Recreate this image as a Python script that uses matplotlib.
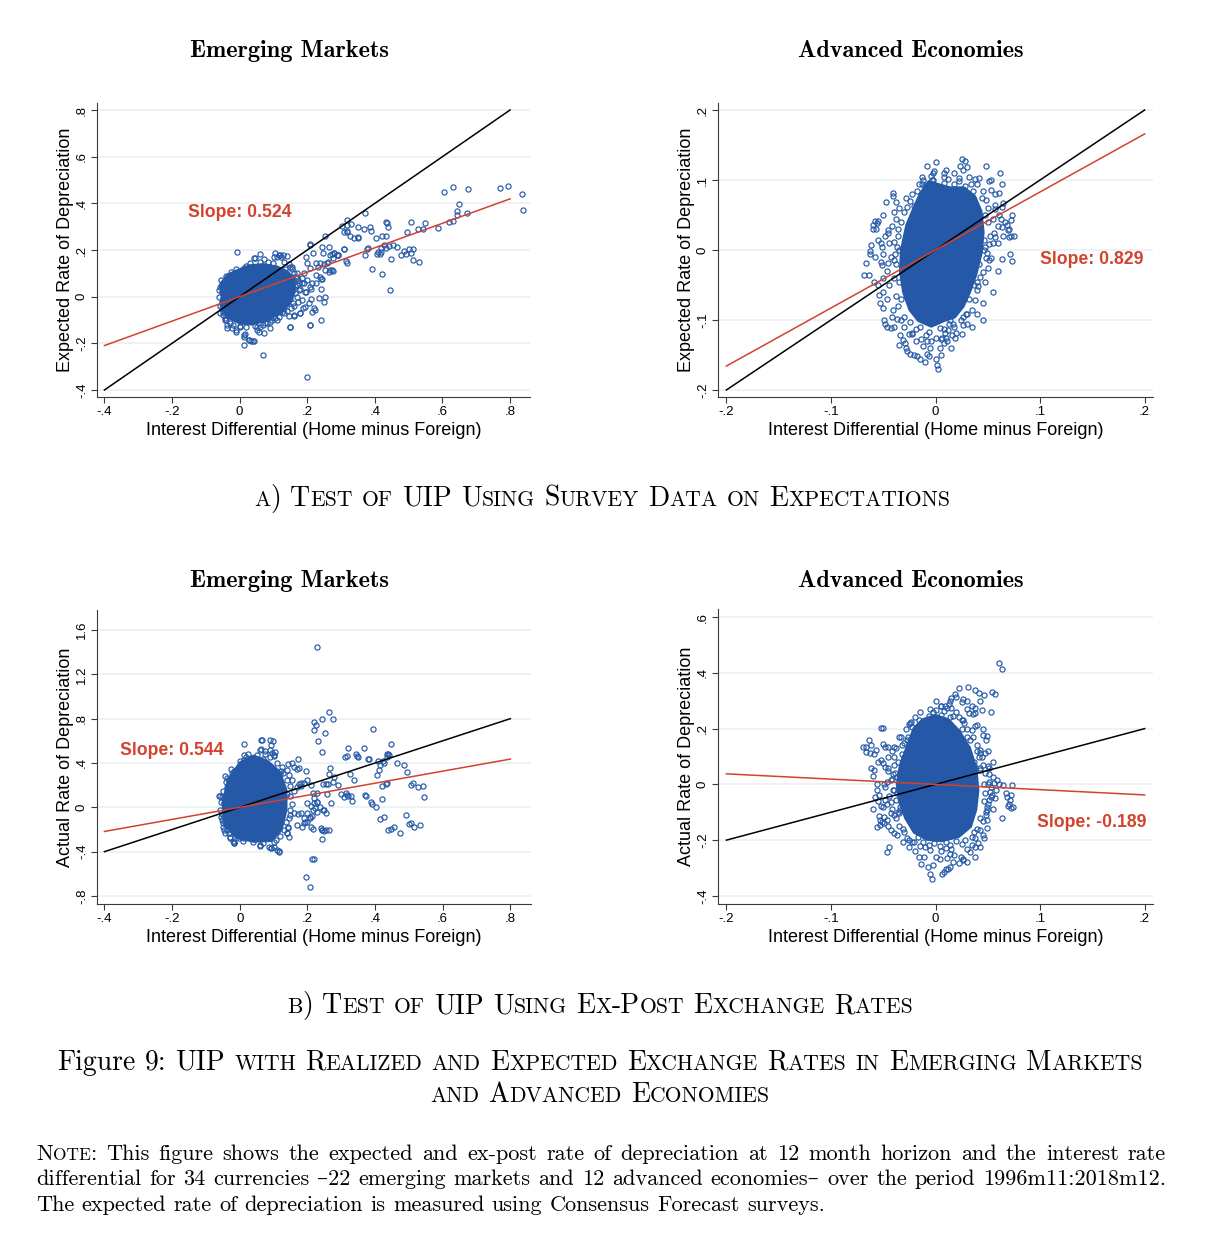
import numpy as np
import matplotlib
matplotlib.use("Agg")
import matplotlib.pyplot as plt
from matplotlib.font_manager import FontProperties

# ---------------- data ----------------
titles = ["Emerging Markets", "Advanced Economies"]
slopes = {"em_survey": 0.524, "ae_survey": 0.829, "em_expost": 0.544, "ae_expost": -0.189}
em_xticks = [-0.4, -0.2, 0, 0.2, 0.4, 0.6, 0.8]
em_xticklabels = ["-.4", "-.2", "0", ".2", ".4", ".6", ".8"]
ae_xticks = [-0.2, -0.1, 0, 0.1, 0.2]
ae_xticklabels = ["-.2", "-.1", "0", ".1", ".2"]
em_survey_yticks = [-0.4, -0.2, 0, 0.2, 0.4, 0.6, 0.8]
em_survey_yticklabels = ["-.4", "-.2", "0", ".2", ".4", ".6", ".8"]
ae_survey_yticks = [-0.2, -0.1, 0, 0.1, 0.2]
ae_survey_yticklabels = ["-.2", "-.1", "0", ".1", ".2"]
em_expost_yticks = [-0.8, -0.4, 0, 0.4, 0.8, 1.2, 1.6]
em_expost_yticklabels = ["-.8", "-.4", "0", ".4", ".8", "1.2", "1.6"]
ae_expost_yticks = [-0.4, -0.2, 0, 0.2, 0.4, 0.6]
ae_expost_yticklabels = ["-.4", "-.2", "0", ".2", ".4", ".6"]
em_line_x = [-0.4, 0.8]
ae_line_x = [-0.2, 0.2]

# outline of the solid, over-plotted centre of each cloud
em_survey_core = [(-0.055, 0.05), (-0.035, 0.09), (-0.005, 0.11), (0.03, 0.13), (0.07, 0.135),
                  (0.11, 0.125), (0.14, 0.105), (0.16, 0.07), (0.16, 0.02), (0.145, -0.03),
                  (0.115, -0.07), (0.075, -0.1), (0.035, -0.115), (0.0, -0.11),
                  (-0.035, -0.085), (-0.055, -0.03), (-0.05, 0.0)]
ae_survey_core = [(-0.014, 0.08), (-0.006, 0.097), (0.004, 0.092), (0.014, 0.088), (0.027, 0.088),
                  (0.037, 0.076), (0.043, 0.055), (0.045, 0.025), (0.043, -0.005), (0.038, -0.035),
                  (0.032, -0.06), (0.026, -0.08), (0.018, -0.095), (0.008, -0.10), (-0.004, -0.108),
                  (-0.016, -0.10), (-0.024, -0.085), (-0.03, -0.06), (-0.033, -0.03),
                  (-0.032, 0.0), (-0.027, 0.035), (-0.02, 0.06)]
em_expost_core = [(-0.032, 0.247), (0.002, 0.397), (0.041, 0.457), (0.081, 0.41), (0.115, 0.32),
                  (0.135, 0.156), (0.135, -0.024), (0.12, -0.205), (0.091, -0.295), (0.041, -0.3),
                  (-0.008, -0.27), (-0.04, -0.16), (-0.048, 0.036)]
ae_expost_core = [(-0.012, 0.23), (0.0, 0.245), (0.012, 0.23), (0.022, 0.19), (0.032, 0.13),
                  (0.038, 0.06), (0.04, -0.02), (0.038, -0.09), (0.033, -0.15), (0.022, -0.185),
                  (0.006, -0.20), (-0.008, -0.195), (-0.02, -0.17), (-0.028, -0.12),
                  (-0.034, -0.06), (-0.036, 0.0), (-0.033, 0.07), (-0.026, 0.14), (-0.02, 0.20)]

# individual observations visible outside / on the edge of the solid centre
em_survey_pts = [
    (0.606, 0.45), (0.632, 0.471), (0.677, 0.463), (0.769, 0.466), (0.795, 0.476), (0.835, 0.442),
    (0.838, 0.373), (0.65, 0.398), (0.642, 0.367), (0.642, 0.349), (0.672, 0.357), (0.618, 0.319),
    (0.631, 0.325), (0.588, 0.293), (0.547, 0.314), (0.541, 0.289), (0.529, 0.29), (0.506, 0.319),
    (0.495, 0.277), (0.513, 0.203), (0.508, 0.186), (0.502, 0.203), (0.493, 0.183), (0.513, 0.159),
    (0.53, 0.148), (0.487, 0.196), (0.476, 0.177), (0.467, 0.212), (0.454, 0.223), (0.447, 0.162),
    (0.445, 0.027), (0.442, 0.216), (0.433, 0.322), (0.435, 0.315), (0.439, 0.30), (0.433, 0.26),
    (0.434, 0.21), (0.421, 0.26), (0.419, 0.21), (0.421, 0.097), (0.427, 0.223), (0.404, 0.25),
    (0.393, 0.117), (0.406, 0.183), (0.414, 0.182), (0.418, 0.19), (0.41, 0.193), (0.38, 0.21),
    (0.378, 0.203), (0.371, 0.177), (0.37, 0.357), (0.387, 0.30), (0.388, 0.282), (0.367, 0.292),
    (0.351, 0.257), (0.35, 0.25), (0.339, 0.25), (0.327, 0.262), (0.349, 0.30), (0.33, 0.313),
    (0.319, 0.327), (0.319, 0.308), (0.317, 0.283), (0.319, 0.276), (0.309, 0.276), (0.304, 0.303),
    (0.308, 0.203), (0.292, 0.177), (0.28, 0.187), (0.273, 0.183), (0.276, 0.165), (0.275, 0.111),
    (0.268, 0.18), (0.316, 0.154), (0.318, 0.146),
    (-0.008, 0.19), (0.061, 0.181), (0.207, 0.221), (0.253, 0.261), (0.244, 0.211), (0.263, 0.211),
    (0.216, 0.186), (0.196, 0.171), (0.199, 0.146), (0.207, 0.124), (0.189, 0.10), (0.225, 0.143),
    (0.232, 0.126), (0.239, 0.146), (0.251, 0.141), (0.258, 0.146), (0.225, 0.091), (0.244, 0.077),
    (0.241, 0.031), (0.235, -0.007), (0.253, 0.0), (0.249, -0.024), (0.219, -0.05), (0.224, -0.057),
    (0.214, -0.064), (0.194, -0.043), (0.204, -0.029), (0.212, -0.011), (0.184, -0.014),
    (0.179, -0.069), (0.16, -0.083), (0.145, -0.083), (0.15, -0.131), (0.207, -0.121),
    (0.242, -0.10), (0.211, 0.031), (0.194, 0.019), (0.214, 0.06), (0.242, 0.076), (0.227, 0.057),
    (0.273, 0.114), (0.263, 0.107), (0.278, 0.189), (0.288, 0.179), (0.308, 0.203), (0.29, 0.177),
    (0.17, 0.05), (0.175, 0.029), (0.159, 0.043), (0.17, 0.0), (0.159, -0.029), (0.168, 0.086),
    (0.155, 0.129), (0.14, 0.174), (0.12, 0.179), (0.11, 0.171), (0.10, 0.143), (0.043, 0.164),
    (0.032, 0.143), (-0.023, 0.086), (-0.049, 0.057), (-0.057, 0.043), (-0.052, 0.021),
    (-0.047, -0.029), (-0.049, -0.064), (-0.042, -0.09), (-0.037, -0.121), (-0.023, -0.136),
    (-0.012, -0.143), (0.002, -0.131), (0.012, -0.171), (0.017, -0.16), (0.027, -0.186),
    (0.034, -0.189), (0.043, -0.189), (0.012, -0.209), (0.069, -0.25), (0.199, -0.343),
    (0.051, -0.143), (0.071, -0.157), (0.091, -0.136), (0.11, -0.10), (0.10, -0.086),
    (0.125, -0.064), (0.14, -0.029), (0.081, -0.114), (0.061, -0.129),
    (0.044, 0.164), (0.071, 0.16), (0.102, 0.169), (0.122, 0.169), (0.117, 0.179), (0.012, 0.121),
    (0.007, 0.107), (-0.018, 0.097), (-0.036, 0.072), (-0.048, 0.057), (-0.052, 0.046),
    (-0.043, 0.029), (-0.058, -0.071), (-0.048, -0.079), (-0.043, -0.10), (-0.036, -0.136),
    (-0.028, -0.114), (-0.01, -0.15), (0.012, -0.164), (0.029, -0.186), (0.039, -0.189),
    (0.056, -0.15), (0.051, -0.129), (0.076, -0.114), (0.095, -0.10),
    (0.115, -0.086), (0.15, -0.129), (0.16, -0.079), (0.179, -0.071), (0.187, -0.05),
    (0.209, -0.121), (0.152, -0.05), (0.174, -0.021), (0.197, 0.021), (0.209, 0.043),
    (0.238, 0.086), (0.253, 0.114), (0.268, 0.114), (0.26, 0.15), (0.248, 0.186), (0.207, 0.226),
    (0.15, 0.129), (0.169, 0.10), (0.174, 0.071), (0.184, 0.057), (0.128, 0.179), (0.106, 0.186),
    (0.16, 0.10), (0.17, 0.08), (0.175, 0.06), (0.18, 0.035), (0.165, 0.015), (0.15, -0.01),
    (0.16, -0.04), (0.13, -0.05), (0.12, -0.06), (0.185, 0.08), (0.19, 0.06), (0.20, 0.07),
    (0.155, 0.12), (0.145, 0.14), (0.13, 0.15), (0.085, 0.15), (0.06, 0.15), (0.02, 0.13),
    (-0.01, 0.12), (-0.025, 0.105), (-0.04, 0.09), (-0.055, 0.07), (-0.062, 0.03), (-0.062, 0.0),
    (-0.058, -0.04), (-0.052, -0.05), (-0.045, -0.06), (-0.04, -0.10), (-0.02, -0.12),
    (0.0, -0.125), (0.02, -0.13), (0.045, -0.125), (0.07, -0.12), (0.09, -0.11), (0.105, -0.09),
    (0.13, -0.07), (0.14, -0.06), (0.165, 0.045), (0.155, 0.085), (0.135, 0.12),
]

ae_survey_pts = [
    (0.0, 0.126), (0.025, 0.13), (0.028, 0.127), (0.023, 0.12), (0.026, 0.114), (0.03, 0.118),
    (0.048, 0.12), (0.062, 0.11), (0.064, 0.095), (0.042, 0.103), (0.038, 0.102), (0.053, 0.10),
    (0.051, 0.099), (0.053, 0.086), (0.057, 0.08), (-0.013, 0.095), (-0.002, 0.11), (-0.003, 0.10),
    (-0.004, 0.093), (-0.041, 0.082), (-0.041, 0.077), (-0.047, 0.068), (-0.038, 0.068),
    (-0.027, 0.062), (-0.021, 0.063), (-0.017, 0.06), (-0.04, 0.055), (-0.058, 0.042),
    (-0.055, 0.042), (-0.056, 0.038), (-0.06, 0.036), (-0.06, 0.03), (-0.057, 0.03), (-0.062, 0.007),
    (-0.063, -0.002), (-0.063, -0.005), (-0.066, -0.019), (-0.068, -0.035), (-0.064, -0.035),
    (-0.059, -0.045), (-0.052, 0.01), (-0.051, 0.005), (-0.045, 0.029), (-0.045, 0.024),
    (-0.04, 0.012), (-0.037, 0.005), (-0.035, 0.0), (-0.043, -0.01), (-0.04, -0.014),
    (-0.045, -0.019), (-0.052, -0.017), (-0.051, -0.021), (-0.054, -0.064), (-0.053, -0.076),
    (-0.05, -0.083), (-0.049, -0.10), (-0.048, -0.105), (-0.046, -0.11), (-0.043, -0.112),
    (-0.04, -0.11), (-0.037, -0.099), (-0.034, -0.121), (-0.031, -0.129), (-0.029, -0.133),
    (-0.027, -0.144), (-0.024, -0.148), (-0.021, -0.15), (-0.018, -0.152), (-0.015, -0.156),
    (-0.008, -0.148), (-0.006, -0.152), (0.0, -0.156), (0.001, -0.164), (0.002, -0.17),
    (0.008, -0.133), (0.011, -0.13), (0.006, -0.126), (0.019, -0.126), (0.012, -0.114),
    (0.008, -0.113), (0.014, -0.10), (0.017, -0.105), (0.026, -0.107), (0.024, -0.10),
    (0.029, -0.092), (0.03, -0.091), (0.04, -0.091), (0.038, -0.072), (0.04, -0.057),
    (0.041, -0.052), (0.043, -0.038), (0.045, -0.032), (0.048, -0.012), (0.051, -0.014),
    (0.053, -0.012), (0.049, -0.004), (0.046, 0.0), (0.064, -0.013), (0.073, -0.015),
    (0.071, -0.005), (0.07, 0.019), (0.072, 0.02), (0.075, 0.02), (0.069, 0.029), (0.07, 0.03),
    (0.072, 0.043), (0.073, 0.05), (0.066, 0.04), (0.064, 0.033), (0.063, 0.045), (0.061, 0.05),
    (0.068, 0.036), (0.056, 0.024), (0.057, 0.019), (0.055, 0.01), (0.051, 0.009), (0.057, 0.058),
    (0.057, 0.064), (0.065, 0.067), (0.064, 0.062), (0.061, 0.081),
    (-0.038, 0.045), (-0.042, 0.035), (-0.036, 0.02), (-0.044, 0.01), (-0.039, -0.005),
    (-0.046, -0.03), (-0.04, -0.04), (-0.044, -0.05), (-0.038, -0.065), (-0.046, -0.07),
    (-0.041, -0.085), (-0.036, -0.08), (-0.033, -0.10), (-0.03, -0.11), (-0.025, -0.12),
    (-0.019, -0.13), (-0.012, -0.137), (-0.005, -0.14), (0.004, -0.14), (0.01, -0.125),
    (0.02, -0.118), (0.03, -0.105), (0.035, -0.085), (0.045, -0.075), (0.04, -0.045),
    (0.047, -0.045), (0.05, -0.025), (0.047, 0.005), (0.052, 0.02), (0.05, 0.04), (0.055, 0.045),
    (0.05, 0.06), (0.048, 0.072), (0.045, 0.085), (0.04, 0.095), (0.032, 0.105), (0.018, 0.11),
    (0.01, 0.115), (-0.008, 0.12), (-0.013, 0.105), (-0.018, 0.085), (-0.024, 0.07),
    (-0.03, 0.055), (-0.033, 0.04), (-0.028, 0.075), (-0.035, 0.06), (-0.05, 0.05),
    (-0.048, 0.02), (-0.055, 0.015), (-0.05, -0.005), (-0.058, -0.01), (-0.05, -0.04),
    (-0.055, -0.05), (-0.05, -0.06), (-0.042, -0.095), (-0.035, -0.135), (-0.028, -0.14),
    (-0.01, -0.16), (0.005, -0.15), (0.015, -0.14), (0.025, -0.12), (0.035, -0.11),
    (0.045, -0.10), (0.055, -0.06), (0.06, -0.03), (0.06, 0.01), (0.065, 0.02), (0.06, 0.035),
    (-0.036, 0.03), (-0.038, -0.02), (-0.035, -0.045), (-0.033, -0.07), (-0.03, -0.095),
    (-0.022, -0.118), (-0.008, -0.13), (0.016, -0.122), (0.026, -0.095), (0.032, -0.07),
    (0.037, -0.05), (0.042, -0.02), (0.046, 0.015), (0.047, 0.05), (0.044, 0.075),
    (0.034, 0.095), (0.022, 0.103), (0.008, 0.11), (-0.016, 0.095), (-0.022, 0.08),
    (-0.024, -0.103), (-0.015, -0.11), (-0.006, -0.117), (0.004, -0.111), (0.013, -0.106),
    (-0.019, -0.113), (-0.009, -0.121), (0.0, -0.125), (0.009, -0.118), (-0.014, -0.127),
    (-0.004, -0.13), (0.005, -0.127), (-0.022, -0.12), (0.018, -0.11),
    (-0.01, 0.092), (-0.002, 0.1), (0.008, 0.096), (0.018, 0.094), (0.028, 0.092),
    (0.036, 0.085), (-0.012, 0.1), (-0.004, 0.106), (0.012, 0.102), (0.022, 0.099),
    (0.008, 0.105), (-0.001, 0.113),
]

em_expost_pts = [
    (0.229, 1.45), (0.263, 0.857), (0.275, 0.797), (0.244, 0.794), (0.219, 0.77), (0.224, 0.74),
    (0.219, 0.698), (0.251, 0.674), (0.232, 0.602), (0.244, 0.499), (0.393, 0.704), (0.446, 0.571),
    (0.32, 0.535), (0.367, 0.535), (0.345, 0.48), (0.348, 0.466), (0.35, 0.451), (0.382, 0.44),
    (0.38, 0.433), (0.31, 0.457), (0.317, 0.463), (0.434, 0.48), (0.438, 0.484), (0.441, 0.469),
    (0.434, 0.457), (0.408, 0.42), (0.414, 0.379), (0.411, 0.337), (0.406, 0.292), (0.423, 0.42),
    (0.426, 0.401), (0.465, 0.397), (0.487, 0.382), (0.495, 0.319), (0.505, 0.20), (0.512, 0.222),
    (0.528, 0.186), (0.541, 0.192), (0.546, 0.09), (0.436, 0.216), (0.431, 0.21), (0.42, 0.192),
    (0.422, 0.072), (0.403, 0.006), (0.389, 0.05), (0.39, 0.03), (0.37, 0.111), (0.372, 0.102),
    (0.339, 0.247), (0.327, 0.30), (0.333, 0.054), (0.316, 0.111), (0.315, 0.132), (0.32, 0.102),
    (0.33, 0.102), (0.30, 0.117), (0.307, 0.096), (0.29, 0.20), (0.276, 0.231), (0.28, 0.271),
    (0.264, 0.298), (0.268, 0.352), (0.27, 0.036), (0.246, -0.024), (0.26, 0.21), (0.254, 0.208),
    (0.246, 0.21), (0.258, 0.12), (0.492, -0.069), (0.416, -0.105), (0.426, -0.084),
    (0.439, -0.205), (0.446, -0.199), (0.456, -0.174), (0.475, -0.235), (0.50, -0.15),
    (0.507, -0.138), (0.515, -0.175), (0.532, -0.156), (0.242, -0.289), (0.219, -0.466),
    (0.197, -0.632), (0.207, -0.722), (0.211, -0.174), (0.217, -0.198), (0.244, -0.204),
    (0.249, -0.21), (0.239, -0.19), (0.255, -0.204), (0.19, -0.144), (0.185, -0.174),
    (0.20, -0.129), (0.17, -0.162), (0.18, -0.054), (0.19, -0.099), (0.20, -0.054),
    (0.209, -0.084), (0.217, -0.024), (0.222, -0.009), (0.219, 0.036), (0.229, 0.051),
    (0.237, 0.006), (0.16, 0.15), (0.17, 0.186), (0.18, 0.217), (0.19, 0.222), (0.20, 0.246),
    (0.212, 0.198), (0.217, 0.126), (0.227, 0.132), (0.196, 0.331), (0.17, 0.343), (0.174, 0.352),
    (0.142, 0.388), (0.155, 0.397), (0.123, 0.328), (0.127, 0.313), (0.12, 0.301), (0.145, 0.295),
    (0.16, 0.367), (0.142, -0.174), (0.14, -0.235), (0.145, -0.265), (0.10, -0.355),
    (0.115, -0.391), (0.091, -0.37), (0.059, -0.349), (-0.02, -0.301), (-0.017, -0.325),
    (-0.003, -0.28), (0.021, -0.265), (0.041, -0.289), (-0.049, -0.174), (-0.047, -0.205),
    (-0.052, -0.114), (-0.057, -0.024), (-0.06, 0.102), (-0.022, 0.307), (-0.018, 0.331),
    (-0.008, 0.262), (-0.042, 0.232), (-0.037, 0.187), (-0.033, 0.232), (0.014, 0.568),
    (0.014, 0.472), (0.063, 0.608), (0.066, 0.608), (0.061, 0.517), (0.089, 0.608), (0.099, 0.598),
    (0.093, 0.559), (0.102, 0.469), (0.103, 0.502), (0.088, 0.457), (0.076, 0.481), (0.064, 0.523),
    (0.076, 0.511), (0.09, 0.52), (0.095, 0.49), (0.10, 0.46), (0.012, 0.43), (0.017, 0.45),
    (0.032, 0.433), (-0.039, 0.262), (-0.057, 0.105), (-0.052, 0.096), (-0.047, 0.036),
    (-0.045, 0.006), (-0.042, -0.024), (-0.047, -0.084), (-0.045, -0.129), (-0.042, -0.159),
    (-0.039, -0.205), (-0.033, -0.235), (-0.028, -0.265), (-0.018, -0.31), (-0.016, -0.325),
    (0.012, -0.28), (0.061, -0.34), (0.086, -0.355), (0.093, -0.37), (0.11, -0.385),
    (0.115, -0.40), (0.106, -0.295), (0.14, -0.235), (0.138, -0.13), (0.142, -0.19),
    (0.15, -0.07), (0.16, -0.049), (0.172, -0.06), (0.155, 0.247), (0.175, 0.211), (0.18, 0.19),
    (0.14, 0.337), (0.172, 0.433), (0.194, -0.13), (0.209, -0.10), (0.214, -0.079),
    (0.229, -0.04), (0.20, 0.04), (0.21, 0.01), (0.229, 0.05), (0.22, 0.08), (0.244, -0.20),
    (0.249, -0.02), (0.254, -0.05), (0.263, -0.20), (0.214, -0.469),
    (-0.055, 0.05), (-0.053, -0.06), (-0.05, 0.15), (-0.045, 0.28), (-0.025, 0.35), (0.0, 0.42),
    (0.025, 0.48), (0.05, 0.47), (0.07, 0.44), (0.11, 0.40), (0.125, 0.36), (0.14, 0.25),
    (0.15, 0.19), (0.148, 0.10), (0.155, 0.03), (0.15, -0.02), (0.145, -0.10), (0.13, -0.20),
    (0.12, -0.26), (0.10, -0.31), (0.07, -0.32), (0.04, -0.315), (0.01, -0.30), (-0.03, -0.28),
    (-0.045, -0.23), (-0.05, -0.14), (-0.055, -0.09), (0.128, 0.05), (0.14, 0.12),
]

ae_expost_pts = [
    (0.061, 0.435), (0.064, 0.414), (0.031, 0.349), (0.038, 0.339), (0.042, 0.329), (0.046, 0.321),
    (0.054, 0.333), (0.057, 0.323), (0.053, 0.259), (0.043, 0.299), (0.044, 0.267), (0.026, 0.305),
    (0.025, 0.297), (0.022, 0.345), (0.019, 0.323), (0.02, 0.315), (0.014, 0.30), (0.015, 0.31),
    (0.013, 0.29), (0.009, 0.282), (0.005, 0.28), (0.011, 0.273), (0.035, 0.281), (0.038, 0.275),
    (0.03, 0.269), (0.032, 0.257), (0.038, 0.257), (0.036, 0.251), (0.026, 0.231), (0.027, 0.221),
    (0.022, 0.243), (0.04, 0.213), (0.038, 0.209), (0.035, 0.195), (0.03, 0.171), (0.045, 0.177),
    (0.049, 0.174), (0.048, 0.159), (0.047, 0.111), (0.043, 0.123), (0.043, 0.114), (0.042, 0.099),
    (0.037, 0.081), (0.038, 0.063), (0.043, 0.051), (0.051, 0.039), (0.05, 0.067), (0.051, 0.057),
    (0.055, 0.028), (0.059, 0.016), (0.051, 0.01), (0.053, -0.008), (0.056, 0.006), (0.061, 0.001),
    (0.065, -0.002), (0.052, -0.026), (0.053, -0.044), (0.051, -0.056), (0.054, -0.038),
    (0.057, -0.05), (0.067, -0.03), (0.068, -0.044), (0.071, -0.056), (0.073, -0.002),
    (0.072, -0.038), (0.07, -0.07), (0.072, -0.086), (0.074, -0.08), (0.069, -0.078),
    (0.064, -0.122), (0.049, -0.08), (0.049, -0.092), (0.048, -0.11), (0.049, -0.128),
    (0.049, -0.156), (0.043, -0.164), (0.045, -0.182), (0.046, -0.194), (0.038, -0.194),
    (0.041, -0.212), (0.043, -0.224), (0.035, -0.218), (0.038, -0.26), (0.038, -0.224),
    (0.033, -0.242), (0.03, -0.278), (0.026, -0.272), (0.024, -0.26), (0.022, -0.281),
    (0.026, -0.266), (0.017, -0.28), (0.018, -0.254), (0.014, -0.248), (0.014, -0.298),
    (0.012, -0.305), (0.01, -0.302), (0.008, -0.314), (0.006, -0.32), (-0.002, -0.29),
    (-0.007, -0.296), (-0.005, -0.32), (-0.003, -0.341), (0.004, -0.269), (0.011, -0.263),
    (-0.016, -0.26), (-0.014, -0.284), (-0.011, -0.26), (-0.021, -0.206), (-0.017, -0.188),
    (-0.025, -0.224), (-0.027, -0.194), (-0.031, -0.206), (-0.044, -0.224), (-0.046, -0.244),
    (-0.04, -0.176), (-0.037, -0.182), (-0.043, -0.164), (-0.056, -0.152), (-0.053, -0.146),
    (-0.051, -0.134), (-0.049, -0.138), (-0.049, -0.116), (-0.043, -0.104), (-0.04, -0.11),
    (-0.035, -0.104), (-0.034, -0.092), (-0.053, -0.128), (-0.054, -0.114), (-0.046, -0.128),
    (-0.052, -0.077), (-0.05, -0.08), (-0.048, -0.056), (-0.043, -0.062), (-0.054, -0.038),
    (-0.056, -0.02), (-0.058, -0.044), (-0.056, 0.0), (-0.049, 0.0), (-0.046, 0.01),
    (-0.043, 0.016), (-0.062, 0.057), (-0.059, 0.051), (-0.069, 0.133), (-0.066, 0.135),
    (-0.064, 0.16), (-0.062, 0.141), (-0.066, 0.117), (-0.063, 0.111), (-0.059, 0.109),
    (-0.057, 0.123), (-0.052, 0.201), (-0.05, 0.204), (-0.05, 0.145), (-0.048, 0.133),
    (-0.045, 0.135), (-0.042, 0.12), (-0.052, 0.087), (-0.05, 0.075), (-0.048, 0.063),
    (-0.045, 0.049), (-0.04, 0.135), (-0.035, 0.171), (-0.03, 0.147), (-0.027, 0.159),
    (-0.024, 0.221), (-0.022, 0.207), (-0.016, 0.202), (-0.014, 0.19), (-0.011, 0.19),
    (-0.009, 0.207), (-0.018, 0.193), (-0.025, 0.216), (-0.023, 0.222), (-0.03, 0.099),
    (-0.027, 0.087), (-0.029, 0.063), (-0.034, 0.039), (-0.037, 0.027), (-0.034, 0.003),
    (-0.041, 0.039), (-0.041, -0.02), (-0.037, -0.032), (-0.038, -0.056), (-0.033, -0.056),
    (-0.034, -0.08),
    (-0.04, 0.10), (-0.045, 0.06), (-0.042, 0.02), (-0.048, -0.01), (-0.044, -0.04),
    (-0.046, -0.07), (-0.042, -0.09), (-0.038, -0.12), (-0.035, -0.15), (-0.03, -0.17),
    (-0.025, -0.20), (-0.015, -0.22), (-0.005, -0.235), (0.005, -0.24), (0.015, -0.23),
    (0.025, -0.215), (0.035, -0.19), (0.04, -0.16), (0.045, -0.13), (0.048, -0.10),
    (0.05, -0.07), (0.047, -0.03), (0.05, 0.0), (0.047, 0.04), (0.045, 0.07), (0.044, 0.10),
    (0.04, 0.14), (0.036, 0.17), (0.03, 0.20), (0.025, 0.23), (0.02, 0.26), (0.015, 0.275),
    (0.005, 0.28), (-0.005, 0.27), (-0.015, 0.26), (-0.02, 0.24), (-0.028, 0.20),
    (-0.033, 0.17), (-0.038, 0.13), (-0.036, 0.08), (-0.04, 0.07), (-0.032, 0.14),
    (-0.045, 0.10), (-0.055, 0.08), (-0.06, 0.03), (-0.055, -0.06), (-0.06, -0.09),
    (-0.045, -0.15), (-0.02, -0.24), (0.0, -0.26), (0.03, -0.23), (0.055, -0.09),
    (0.058, -0.02), (0.055, 0.08), (0.05, 0.12), (0.045, 0.20), (0.03, 0.30), (0.0, 0.30),
    (-0.04, -0.02), (-0.039, 0.04), (-0.036, -0.10), (-0.031, -0.16), (-0.022, -0.205),
    (-0.01, -0.225), (0.01, -0.228), (0.028, -0.2), (0.037, -0.17), (0.043, -0.12),
    (0.046, -0.06), (0.046, 0.0), (0.043, 0.06), (0.04, 0.12), (0.033, 0.16), (0.025, 0.2),
    (0.017, 0.245), (-0.016, 0.23), (-0.026, 0.17), (-0.032, 0.11),
    (-0.012, -0.205), (-0.001, -0.21), (0.01, -0.206), (0.02, -0.202),
    (-0.006, -0.218), (0.004, -0.222), (0.014, -0.216),
    (-0.006, 0.245), (0.005, 0.25), (0.014, 0.24), (-0.002, 0.258), (0.008, 0.262), (0.0, 0.268),
]

# ---------------- figure ----------------
W, H = 1206, 1248
BLUE = "#2559A7"
RED = "#D1432E"
CM = ["cmr10", "DejaVu Serif"]
CMB = ["cmb10", "DejaVu Serif"]
plt.rcParams["font.family"] = ["Liberation Sans", "DejaVu Sans"]
plt.rcParams["axes.unicode_minus"] = False

fig = plt.figure(figsize=(W / 100, H / 100), dpi=100)
renderer = fig.canvas.get_renderer()


def ax_box(left, top, right, bottom):
    return [left / W, 1 - bottom / H, (right - left) / W, (bottom - top) / H]


def panel(rect, pts, core, slope, line_x, xlim, ylim, xt, xtl, yt, ytl, ylabel, label_xy, title, title_x, title_y):
    ax = fig.add_axes(ax_box(*rect))
    ax.set_xlim(xlim)
    ax.set_ylim(ylim)
    ax.set_axisbelow(True)
    ax.yaxis.grid(True, color="#E8F0F2", lw=1.1)
    for s in ("top", "right"):
        ax.spines[s].set_visible(False)
    for s in ("left", "bottom"):
        ax.spines[s].set_color("#3a3a3a")
        ax.spines[s].set_linewidth(0.8)
    ax.set_xticks(xt)
    ax.set_xticklabels(xtl)
    ax.set_yticks(yt)
    ax.set_yticklabels(ytl, rotation=90, va="center")
    ax.tick_params(direction="out", length=4, width=0.8, color="#3a3a3a", labelsize=9.5, pad=2.5)
    ax.set_xlabel("Interest Differential (Home minus Foreign)", fontsize=13, labelpad=3)
    ax.set_ylabel(ylabel, fontsize=13, labelpad=1.5)

    cx, cy = zip(*core)
    ax.fill(cx, cy, facecolor=BLUE, edgecolor=BLUE, lw=3, joinstyle="round", zorder=2)
    px, py = zip(*pts)
    ax.plot(px, py, "o", ms=3.7, mfc="none", mec=BLUE, mew=0.85, zorder=3)
    lx = np.array(line_x)
    ax.plot(lx, lx, color="black", lw=1.1, zorder=4)
    ax.plot(lx, slope * lx, color=RED, lw=1.1, zorder=5)
    ax.text(label_xy[0], label_xy[1], f"Slope: {slope:.3f}", color=RED, fontweight="bold",
            fontsize=12.7, ha="left", va="center", zorder=6)
    fig.text(title_x / W, 1 - title_y / H, title, family=CMB, fontsize=17.5,
             ha="center", va="baseline")
    return ax


panel((97, 103, 530, 397), em_survey_pts, em_survey_core, slopes["em_survey"], em_line_x,
      (-0.422, 0.859), (-0.43, 0.83), em_xticks, em_xticklabels, em_survey_yticks,
      em_survey_yticklabels, "Expected Rate of Depreciation", (-0.153, 0.36), titles[0], 289, 57)
panel((718, 103, 1153, 397), ae_survey_pts, ae_survey_core, slopes["ae_survey"], ae_line_x,
      (-0.208, 0.208), (-0.21, 0.21), ae_xticks, ae_xticklabels, ae_survey_yticks,
      ae_survey_yticklabels, "Expected Rate of Depreciation", (0.10, -0.014), titles[1], 911, 57)
panel((97, 610, 531, 904), em_expost_pts, em_expost_core, slopes["em_expost"], em_line_x,
      (-0.422, 0.861), (-0.872, 1.78), em_xticks, em_xticklabels, em_expost_yticks,
      em_expost_yticklabels, "Actual Rate of Depreciation", (-0.354, 0.51), titles[0], 289, 587)
panel((718, 609, 1153, 904), ae_expost_pts, ae_expost_core, slopes["ae_expost"], ae_line_x,
      (-0.208, 0.208), (-0.429, 0.629), ae_xticks, ae_xticklabels, ae_expost_yticks,
      ae_expost_yticklabels, "Actual Rate of Depreciation", (0.097, -0.138), titles[1], 911, 587)


# ---------------- LaTeX-like caption text (small caps emulated) ----------------
def width(s, size):
    prop = FontProperties(family=CM, size=size)
    w1 = renderer.get_text_width_height_descent("I" + s + "I", prop, ismath=False)[0]
    w0 = renderer.get_text_width_height_descent("II", prop, ismath=False)[0]
    return w1 - w0


def word_runs(word, size, sc):
    if not sc:
        return [(word, size)]
    runs = []
    for ch in word:
        small = ch.islower()
        sz = size * 0.78 if small else size
        c = ch.upper() if small else ch
        if runs and runs[-1][1] == sz:
            runs[-1] = (runs[-1][0] + c, sz)
        else:
            runs.append((c, sz))
    return runs


def draw_line(words, size, baseline, center=None, left=None, right=None):
    # words: list of (text, smallcaps_flag)
    runs = [word_runs(w, size, sc) for w, sc in words]
    widths = [sum(width(t, s) for t, s in r) for r in runs]
    space = 0.333 * size * 100 / 72
    total = sum(widths) + space * (len(words) - 1)
    if right is not None:
        space = (right - left - sum(widths)) / (len(words) - 1)
        x = left
    elif center is not None:
        x = center - total / 2
    else:
        x = left
    for r, w in zip(runs, widths):
        xx = x
        for t, s in r:
            fig.text(xx / W, 1 - baseline / H, t, family=CM, fontsize=s, ha="left", va="baseline")
            xx += width(t, s)
        x += w + space


def sc(text):
    return [(w, True) for w in text.split()]


def rm(text):
    return [(w, False) for w in text.split()]


cap_size = 20
draw_line(sc("a) Test of UIP Using Survey Data on Expectations"), cap_size, 506, center=602)
draw_line(sc("b) Test of UIP Using Ex-Post Exchange Rates"), cap_size, 1013, center=600)
draw_line(rm("Figure 9:") + sc("UIP with Realized and Expected Exchange Rates in Emerging Markets"),
          cap_size, 1070, center=600)
draw_line(sc("and Advanced Economies"), cap_size, 1102, center=600)

note_size = 16
draw_line(sc("Note:") + rm("This figure shows the expected and ex-post rate of depreciation at 12 "
                           "month horizon and the interest rate"),
          note_size, 1160, left=36, right=1166)
draw_line(rm("differential for 34 currencies \u201322 emerging markets and 12 advanced economies\u2013 "
             "over the period 1996m11:2018m12."),
          note_size, 1185, left=36, right=1166)
draw_line(rm("The expected rate of depreciation is measured using Consensus Forecast surveys."),
          note_size, 1211, left=36)

fig.savefig("out.png", dpi=100, facecolor="white")
